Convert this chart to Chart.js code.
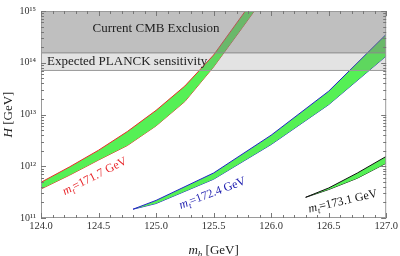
<!DOCTYPE html>
<html>
<head>
<meta charset="utf-8">
<script src="https://cdn.jsdelivr.net/npm/chart.js@4.4.0/dist/chart.umd.min.js"></script>
<style>
  html, body { margin: 0; padding: 0; background: #fff; }
  #wrap { width: 400px; height: 256px; }
</style>
</head>
<body>
<div id="wrap"><canvas id="chart"></canvas></div>
<script>
// m_h in GeV, band edges as log10(H / GeV)
const mhRed = [124.0, 124.25, 124.5, 124.75, 125.0, 125.25, 125.5, 125.75, 126.0];
const redUpper = [11.69, 11.99, 12.31, 12.67, 13.08, 13.55, 14.15, 14.92, 15.7];
const redLower = [11.56, 11.83, 12.12, 12.40, 12.78, 13.25, 13.92, 14.68, 15.45];

const mhBlue = [124.8, 125.0, 125.5, 126.0, 126.5, 127.0];
const blueUpper = [11.17, 11.34, 11.87, 12.60, 13.45, 14.55];
const blueLower = [11.17, 11.28, 11.75, 12.42, 13.19, 14.13];

const mhBlack = [126.3, 126.5, 126.75, 127.0];
const blackUpper = [11.40, 11.58, 11.87, 12.19];
const blackLower = [11.40, 11.55, 11.77, 12.06];

// excluded / expected regions (GeV)
const cmbLimit = 1.55e14;
const planckLimit = 7.1e13;

const xTicks = [124.0, 124.5, 125.0, 125.5, 126.0, 126.5, 127.0];
const yTicks = [1e11, 1e12, 1e13, 1e14, 1e15];
const yTickLabels = ['10¹¹', '10¹²', '10¹³', '10¹⁴', '10¹⁵'];

const bandLabels = [
    { mt: '171.7', x: 124.48, y: 11.75, angle: -27, color: '#e8262a' },
    { mt: '172.4', x: 125.5, y: 11.42, angle: -21, color: '#2020b0' },
    { mt: '173.1', x: 126.63, y: 11.26, angle: -13, color: '#111' }
];

const SERIF = '"Liberation Serif", "DejaVu Serif", serif';
const GREEN = '#55f055';

function pts(xs, logs) {
    return xs.map((x, i) => ({ x: x, y: Math.pow(10, logs[i]) }));
}

function band(xs, up, lo, edge) {
    return [
        { data: pts(xs, up), borderColor: edge, borderWidth: 1, pointRadius: 0, tension: 0,
          fill: '+1', backgroundColor: GREEN, order: 2 },
        { data: pts(xs, lo), borderColor: edge, borderWidth: 1, pointRadius: 0, tension: 0,
          fill: false, order: 2 }
    ];
}

// draw text made of runs (italic / subscript parts)
function drawRuns(ctx, runs, size) {
    let w = 0;
    runs.forEach(r => {
        ctx.font = (r.it ? 'italic ' : '') + (r.sub ? size * 0.7 : size) + 'px ' + SERIF;
        r.w = ctx.measureText(r.t).width;
        w += r.w;
    });
    let cx = -w / 2;
    runs.forEach(r => {
        ctx.font = (r.it ? 'italic ' : '') + (r.sub ? size * 0.7 : size) + 'px ' + SERIF;
        ctx.fillText(r.t, cx, r.sub ? size * 0.25 : 0);
        cx += r.w;
    });
}

const framePlugin = {
    id: 'frame',
    afterDatasetsDraw(chart) {
        const { ctx, chartArea: a, scales: { x, y } } = chart;
        ctx.save();
        ctx.strokeStyle = '#9a9a9a';
        ctx.lineWidth = 1;
        ctx.strokeRect(a.left + 0.5, a.top + 0.5, a.right - a.left - 1, a.bottom - a.top - 1);

        ctx.strokeStyle = '#777';
        ctx.beginPath();
        for (let i = 0; i <= 30; i++) {
            const px = Math.round(x.getPixelForValue(124 + i / 10)) + 0.5;
            const len = i % 5 === 0 ? 5 : 3;
            ctx.moveTo(px, a.bottom); ctx.lineTo(px, a.bottom - len);
            ctx.moveTo(px, a.top); ctx.lineTo(px, a.top + len);
        }
        for (let d = 11; d <= 15; d++) {
            for (let m = 1; m <= 9; m++) {
                if (d === 15 && m > 1) break;
                const py = Math.round(y.getPixelForValue(m * Math.pow(10, d))) + 0.5;
                const len = m === 1 ? 5 : 3;
                ctx.moveTo(a.left, py); ctx.lineTo(a.left + len, py);
                ctx.moveTo(a.right, py); ctx.lineTo(a.right - len, py);
            }
        }
        ctx.stroke();

        // region texts
        ctx.fillStyle = '#222';
        ctx.textBaseline = 'middle';
        ctx.textAlign = 'center';
        ctx.font = '13px ' + SERIF;
        ctx.fillText('Current CMB Exclusion', x.getPixelForValue(125.0), y.getPixelForValue(4.5e14));
        ctx.textAlign = 'left';
        ctx.fillText('Expected PLANCK sensitivity', a.left + 6, y.getPixelForValue(1.05e14));

        // band labels
        ctx.textAlign = 'left';
        ctx.textBaseline = 'alphabetic';
        bandLabels.forEach(l => {
            ctx.save();
            ctx.translate(x.getPixelForValue(l.x), y.getPixelForValue(Math.pow(10, l.y)));
            ctx.rotate(l.angle * Math.PI / 180);
            ctx.fillStyle = l.color;
            drawRuns(ctx, [{ t: 'm', it: true }, { t: 't', it: true, sub: true }, { t: '=' + l.mt + ' GeV' }], 12);
            ctx.restore();
        });

        // axis titles
        ctx.fillStyle = '#222';
        ctx.save();
        ctx.translate((a.left + a.right) / 2, 254);
        drawRuns(ctx, [{ t: 'm', it: true }, { t: 'h', it: true, sub: true }, { t: ' [GeV]' }], 13);
        ctx.restore();
        ctx.save();
        ctx.translate(12, (a.top + a.bottom) / 2);
        ctx.rotate(-Math.PI / 2);
        drawRuns(ctx, [{ t: 'H', it: true }, { t: ' [GeV]' }], 13);
        ctx.restore();
        ctx.restore();
    }
};

const datasets = [
    { data: [{ x: 124, y: cmbLimit }, { x: 127, y: cmbLimit }], borderColor: '#8a8a8a', borderWidth: 1,
      pointRadius: 0, fill: 'end', backgroundColor: 'rgba(128,128,128,0.5)', order: 0 },
    { data: [{ x: 124, y: planckLimit }, { x: 127, y: planckLimit }], borderColor: '#9a9a9a', borderWidth: 1,
      pointRadius: 0, fill: { value: cmbLimit }, backgroundColor: 'rgba(128,128,128,0.22)', order: 0 }
].concat(
    band(mhRed, redUpper, redLower, '#ee2a2a'),
    band(mhBlue, blueUpper, blueLower, '#2222c8'),
    band(mhBlack, blackUpper, blackLower, '#111')
);

new Chart(document.getElementById('chart'), {
    type: 'line',
    data: { datasets: datasets },
    options: {
        responsive: true,
        maintainAspectRatio: false,
        animation: false,
        layout: { padding: { top: 6, right: 12, left: 0, bottom: 0 } },
        plugins: { legend: { display: false }, tooltip: { enabled: false } },
        scales: {
            x: {
                type: 'linear', min: 124, max: 127,
                grid: { display: false, drawTicks: false },
                border: { display: false },
                afterBuildTicks: s => { s.ticks = xTicks.map(v => ({ value: v })); },
                afterFit: s => { s.height = 38; },
                ticks: {
                    callback: v => Number(v).toFixed(1),
                    font: { family: SERIF, size: 10.5 }, color: '#333', padding: 2, maxRotation: 0
                }
            },
            y: {
                type: 'logarithmic', min: 1e11, max: 1e15,
                grid: { display: false, drawTicks: false },
                border: { display: false },
                afterBuildTicks: s => { s.ticks = yTicks.map(v => ({ value: v })); },
                afterFit: s => { s.width = 41; },
                ticks: {
                    callback: v => yTickLabels[yTicks.indexOf(v)] || '',
                    font: { family: SERIF, size: 10 }, color: '#333', padding: 5
                }
            }
        }
    },
    plugins: [framePlugin]
});
</script>
</body>
</html>
